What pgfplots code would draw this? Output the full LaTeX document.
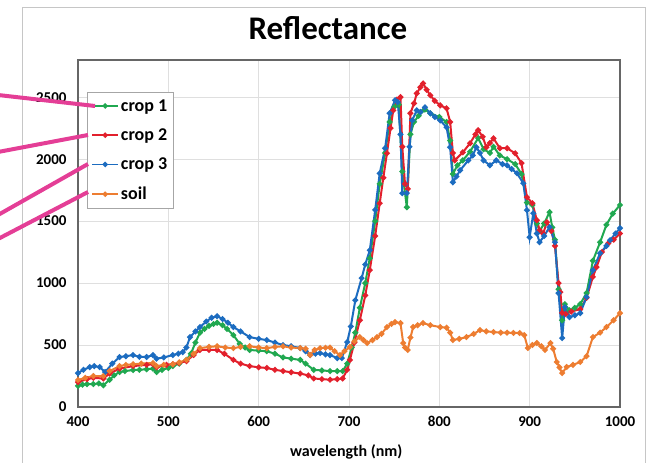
\documentclass[border=0pt]{standalone}
\usepackage{fontspec}
\setmainfont{Carlito}
\usepackage{pgfplots}
\pgfplotsset{compat=1.18}

\definecolor{cgreen}{RGB}{32,168,80}
\definecolor{cred}{RGB}{226,32,44}
\definecolor{cblue}{RGB}{28,108,192}
\definecolor{corange}{RGB}{237,125,49}
\definecolor{cpink}{RGB}{228,62,150}

\begin{document}
\begin{tikzpicture}[x=1pt,y=1pt]
  % outer chart frame and pointer lines
  \draw[gray!45, line width=1pt] (-55,399) rectangle (567,-70);
  \begin{axis}[
      scale only axis,
      width=542pt, height=347pt,
      xmin=400, xmax=1000, ymin=0, ymax=2800,
      xtick={400,500,...,1000},
      ytick={0,500,...,2500},
      major tick length=0pt,
      grid=major,
      major grid style={gray!25, line width=0.8pt},
      axis line style={gray!80!black, line width=1.2pt},
      /pgf/number format/assume math mode=true,
      /pgf/number format/1000 sep={},
      ticklabel style={font=\fontsize{15}{17}\selectfont\bfseries},
      xticklabel style={yshift=-6pt},
      yticklabel style={xshift=-8pt},
      title={Reflectance},
      title style={at={(axis description cs:0.461,1)}, anchor=base, yshift=14pt,
        font=\fontsize{33}{36}\selectfont\bfseries},
      xlabel={wavelength (nm)},
      xlabel style={at={(axis description cs:0.495,0)}, anchor=base, yshift=-50pt,
        font=\fontsize{16}{19}\selectfont\bfseries},
      legend cell align=left,
      legend style={at={(axis description cs:0.0166,0.908)}, anchor=north west,
        draw=gray!70, line width=0.8pt, fill=white,
        font=\fontsize{18}{21}\selectfont\bfseries, row sep=12pt,
        inner xsep=4pt, inner ysep=5pt},
      legend image code/.code={\draw[#1, line width=1.6pt, mark repeat=2, mark phase=2]
        plot coordinates {(0pt,0pt) (13pt,0pt) (26pt,0pt)};},
      every axis plot/.append style={line width=2pt, mark=*, mark size=1.8pt},
    ]

    % crop 1
    \addplot[cgreen, mark options={fill=cgreen}] coordinates {
      (400,170) (405,180) (410,185) (417,185) (423,190) (428,175) (435,220)
      (440,255) (446,282) (452,290) (461,298) (468,300) (476,305) (483,310)
      (487,282) (493,300) (500,315) (505,330) (512,350) (520,380) (525,430)
      (530,520) (535,600) (540,630) (545,655) (550,670) (554,680) (560,660)
      (565,630) (572,580) (579,510) (585,480) (590,460) (600,455) (609,450)
      (618,430) (627,400) (636,390) (646,380) (652,350) (661,300) (670,295)
      (679,290) (687,290) (693,290) (698,350) (703,480) (707,600) (712,800)
      (718,1000) (723,1200) (729,1500) (734,1800) (740,2050) (745,2300)
      (750,2420) (755,2440) (759,1900) (764,1612) (768,2200) (772,2300)
      (777,2350) (784,2400) (790,2370) (800,2340) (808,2300) (812,2150)
      (815,1880) (820,1950) (826,1990) (834,2060) (843,2170) (849,2080)
      (856,2050) (860,2100) (867,2030) (875,2000) (884,1960) (891,1880)
      (897,1650) (903,1630) (908,1480) (911,1420) (916,1480) (922,1572)
      (925,1450) (928,1350) (932,950) (936,700) (939,830) (944,780)
      (950,800) (956,830) (963,920) (970,1180) (978,1330) (985,1470)
      (992,1560) (1000,1630)
    };
    \addlegendentry{crop 1}

    % crop 2
    \addplot[cred, mark options={fill=cred}] coordinates {
      (400,200) (410,225) (417,235) (428,230) (435,270) (446,310) (461,330)
      (476,340) (483,345) (487,320) (498,340) (505,345) (512,355) (520,370)
      (528,420) (535,460) (545,460) (554,460) (562,430) (572,380) (580,350)
      (590,330) (600,320) (609,315) (618,300) (627,290) (636,280) (646,270)
      (655,255) (661,230) (670,225) (679,220) (687,225) (693,230) (698,300)
      (701,380) (706,520) (712,700) (718,900) (723,1104) (729,1380)
      (734,1644) (738,1850) (742,2047) (746,2250) (749,2394) (753,2480)
      (757,2500) (759,2100) (762,1800) (765,1760) (768,2370) (772,2450)
      (775,2530) (779,2580) (782,2611) (786,2560) (790,2515) (795,2470)
      (801,2434) (808,2410) (812,2300) (815,2050) (817,1990) (826,2055)
      (834,2128) (840,2200) (843,2233) (848,2180) (852,2096) (856,2130)
      (860,2168) (867,2088) (875,2088) (884,2047) (891,1967) (897,1693)
      (903,1644) (908,1507) (911,1427) (915,1400) (919,1491) (924,1420)
      (928,1300) (932,1000) (934,927) (936,760) (940,750) (946,770)
      (956,790) (963,880) (970,1050) (974,1128) (980,1250) (987,1320)
      (993,1350) (1000,1400)
    };
    \addlegendentry{crop 2}

    % crop 3
    \addplot[cblue, mark options={fill=cblue}] coordinates {
      (400,274) (406,300) (413,322) (418,330) (424,322) (430,282) (438,350)
      (446,403) (453,410) (461,419) (468,405) (476,403) (483,419) (487,390)
      (495,400) (505,419) (511,430) (516,443) (520,480) (524,564) (530,610)
      (535,645) (542,690) (548,720) (554,733) (560,710) (566,680) (572,645)
      (580,610) (590,564) (600,550) (609,540) (618,520) (627,500) (636,490)
      (646,476) (652,450) (657,419) (663,430) (668,435) (674,425) (679,419)
      (687,395) (692,395) (698,524) (702,650) (707,862) (714,1040)
      (718,1150) (723,1265) (729,1590) (734,1886) (740,2088) (745,2370)
      (751,2475) (754,2460) (757,2200) (759,1725) (764,1725) (767,2100)
      (770,2313) (775,2394) (779,2380) (784,2418) (790,2370) (795,2340)
      (801,2313) (808,2257) (812,2096) (815,1813) (819,1860) (823,1910)
      (832,1990) (837,2030) (841,2096) (845,2050) (849,1990) (856,1950)
      (863,1990) (870,1960) (875,1950) (880,1920) (886,1886) (893,1805)
      (897,1588) (900,1370) (904,1563) (908,1400) (911,1330) (916,1380)
      (922,1451) (928,1330) (932,919) (936,556) (939,806) (944,725)
      (950,740) (956,758) (963,887) (970,1104) (978,1241) (985,1300)
      (989,1346) (995,1400) (1000,1443)
    };
    \addlegendentry{crop 3}

    % soil
    \addplot[corange, mark options={fill=corange}] coordinates {
      (400,218) (408,235) (417,250) (428,250) (435,290) (446,330) (453,340)
      (461,345) (470,350) (483,355) (487,330) (495,340) (505,345) (512,360)
      (520,380) (528,430) (535,475) (545,485) (554,490) (563,480) (572,475)
      (580,485) (590,490) (600,480) (609,475) (618,485) (627,490) (636,480)
      (646,475) (652,470) (657,420) (662,460) (668,475) (674,478) (679,480)
      (684,450) (690,419) (695,450) (701,484) (706,530) (712,564) (716,540)
      (720,516) (726,540) (731,564) (736,590) (742,645) (747,670) (751,685)
      (757,677) (760,516) (762,480) (765,460) (768,560) (771,645) (776,660)
      (782,677) (790,660) (801,645) (808,640) (812,600) (815,540) (822,550)
      (830,564) (838,590) (845,620) (852,610) (860,605) (868,600) (875,600)
      (882,598) (889,597) (894,580) (898,476) (903,500) (908,516) (913,490)
      (917,460) (923,516) (926,470) (930,363) (933,320) (936,274) (941,323)
      (948,340) (956,363) (963,410) (970,564) (978,600) (985,645) (993,700)
      (1000,758)
    };
    \addlegendentry{soil}
  \end{axis}
  \begin{scope}[cpink, line width=4pt]
    \draw (-80,312) -- (17,301);
    \draw (-80,255) -- (10,272);
    \draw (-80,192) -- (10,243);
    \draw (-80,168) -- (10,215);
  \end{scope}
  \pgfresetboundingbox
  \path (-78,-56) rectangle (576,407);
\end{tikzpicture}
\end{document}
